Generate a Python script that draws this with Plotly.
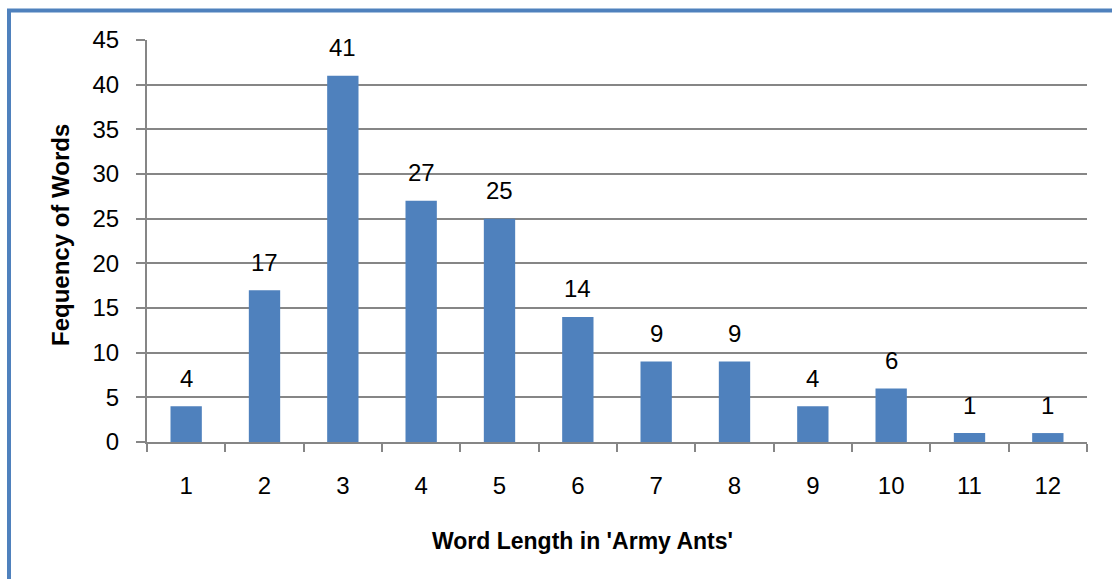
import plotly.graph_objects as go

categories = ["1", "2", "3", "4", "5", "6", "7", "8", "9", "10", "11", "12"]
frequencies = [4, 17, 41, 27, 25, 14, 9, 9, 4, 6, 1, 1]
y_ticks = [0, 5, 10, 15, 20, 25, 30, 35, 40, 45]

W, H = 1112, 579
L, R, T, B = 147, 1087, 40, 442
pw, ph = R - L, B - T

def px(x):
    return (x - L) / pw

def py(y):
    return (B - y) / ph

font = "Liberation Sans, Arial"

fig = go.Figure()
fig.add_trace(go.Bar(
    x=categories, y=frequencies,
    marker=dict(color="#4F81BD", line=dict(width=0)),
    hoverinfo="x+y",
))

annotations = [
    dict(text="<b>Word Length in 'Army Ants'</b>", xref="paper", yref="paper",
         x=px(582), y=py(541), xanchor="center", yanchor="middle",
         showarrow=False, font=dict(family=font, size=23, color="#000000")),
    dict(text="<b>Fequency of Words</b>", xref="paper", yref="paper",
         x=px(61), y=py(235), xanchor="center", yanchor="middle", textangle=-90,
         showarrow=False, font=dict(family=font, size=24, color="#000000")),
]
# data labels above bars (x given as category index on the category axis)
for i, v in enumerate(frequencies):
    annotations.append(dict(
        x=i, y=v, xref="x", yref="y", text=str(v), showarrow=False,
        xanchor="center", yanchor="middle", yshift=28,
        font=dict(family=font, size=24, color="#000000"),
    ))

fig.update_layout(
    width=W, height=H,
    margin=dict(l=L, r=W - R, t=T, b=H - B),
    paper_bgcolor="white", plot_bgcolor="white",
    bargap=0.6,
    showlegend=False,
    xaxis=dict(
        type="category",
        categoryarray=categories, categoryorder="array",
        range=[-0.5, len(categories) - 0.5],
        tickson="boundaries",
        ticks="outside", ticklen=8, tickcolor="#868686", tickwidth=2,
        showline=True, linecolor="#868686", linewidth=2,
        showgrid=False,
        tickfont=dict(family=font, size=24, color="#000000"),
        ticklabelstandoff=21,
    ),
    yaxis=dict(
        range=[0, 45],
        tickvals=y_ticks,
        ticks="outside", ticklen=9, tickcolor="#868686", tickwidth=2,
        showline=True, linecolor="#868686", linewidth=2,
        showgrid=True, gridcolor="#868686", gridwidth=2,
        zeroline=False,
        tickfont=dict(family=font, size=24, color="#000000"),
        ticklabelstandoff=12,
    ),
    annotations=annotations,
)

# outer frame (blue border along top and left, cropped on right/bottom)
fig.add_shape(type="rect", xref="paper", yref="paper",
              x0=px(9), x1=px(W + 20), y0=py(10.5), y1=py(H + 20),
              line=dict(color="#4F81BD", width=4), fillcolor="rgba(0,0,0,0)",
              layer="above")

fig.write_html("out.html", config={"displayModeBar": False},
               post_script="document.body.style.margin='0';")
